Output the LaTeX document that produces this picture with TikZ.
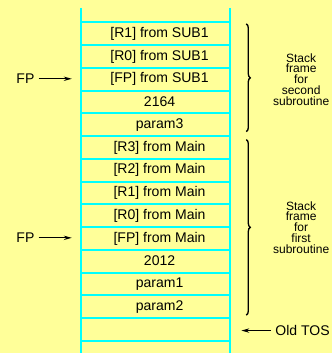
\documentclass[tikz,border=0pt]{standalone}
\usepackage{fontspec}
\setmainfont{Liberation Sans}
\usetikzlibrary{arrows.meta}
\usetikzlibrary{decorations.pathreplacing}
\definecolor{paleyellow}{RGB}{255,255,153}
\definecolor{stackline}{RGB}{0,255,255}

\begin{document}
\begin{tikzpicture}[x=0.3mm,y=-0.3mm,
        grid/.style={stackline,line width=0.6mm},
        cell/.style={font=\fontsize{12}{14}\selectfont,inner sep=0pt},
        side/.style={font=\fontsize{10.3}{9.2}\selectfont,align=center,inner sep=0pt},
        ptr/.style={-{Stealth[length=2.4mm,width=1.3mm]},line width=0.35mm},
        brace/.style={decorate,decoration={brace,amplitude=1.2mm},line width=0.4mm}]
        \fill[paleyellow] (0,0) rectangle (333,354);
        \draw[grid] (81,8) -- (81,354);
        \draw[grid] (230.5,8) -- (230.5,354);
        \foreach \k in {0,...,14}
            \draw[grid] (81,{22.5+22.8*\k}) -- (230.5,{22.5+22.8*\k});
        \foreach \txt [count=\i] in {{[R1] from SUB1},{[R0] from SUB1},{[FP] from SUB1},2164,param3,
                {[R3] from Main},{[R2] from Main},{[R1] from Main},{[R0] from Main},{[FP] from Main},
                2012,param1,param2}
            \node[cell] (c\i) at (160,{33.9+22.8*(\i-1)}) {\txt};
        \node[font=\fontsize{12}{14}\selectfont] (fp1) at (25.5,79) {FP};
        \coordinate (fp1tip) at (72,79);
        \draw[ptr] (fp1) -- (fp1tip);
        \node[font=\fontsize{12}{14}\selectfont] (fp2) at (25.5,238.5) {FP};
        \coordinate (fp2tip) at (72,238.5);
        \draw[ptr] (fp2) -- (fp2tip);
        \node[font=\fontsize{12}{14}\selectfont,anchor=west] (tos) at (272,331.5) {Old TOS};
        \coordinate (tostip) at (242,331.5);
        \draw[ptr] (tos) -- (tostip);
        \coordinate (b1top) at (247,24);
        \coordinate (b1bot) at (247,132);
        \draw[brace] (b1top) -- (b1bot);
        \node[side] (frame2) at (302,79.5) {Stack\\frame\\for\\second\\subroutine};
        \coordinate (b2top) at (247,140);
        \coordinate (b2bot) at (247,316);
        \draw[brace] (b2top) -- (b2bot);
        \node[side] (frame1) at (302,228) {Stack\\frame\\for\\first\\subroutine};
    \end{tikzpicture}
\end{document}
